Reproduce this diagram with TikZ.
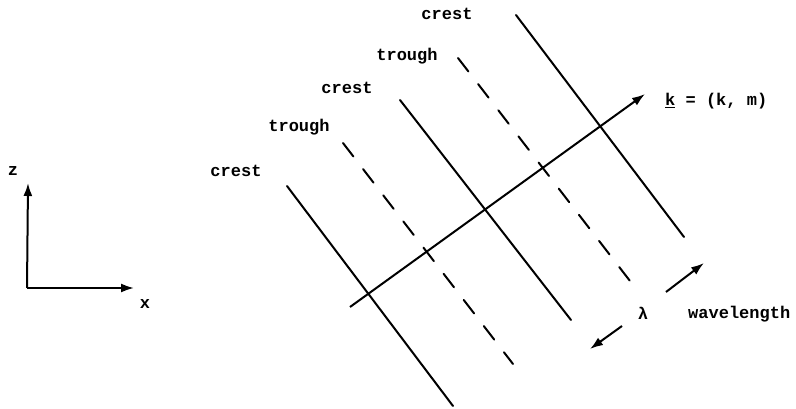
\documentclass[tikz,border=0pt]{standalone}
\usepackage{fontspec}
\setmonofont{Liberation Mono}
\usetikzlibrary{arrows.meta}
\tikzset{
  wave/.style={line width=2pt, line cap=round},
  trough line/.style={wave, dash pattern=on 17pt off 16pt},
  lbl/.style={font=\ttfamily\bfseries\fontsize{17}{20}\selectfont, inner sep=0pt},
  vec/.style={line width=2pt, -{Latex[length=13pt, width=9pt]}}
}
\begin{document}
\begin{tikzpicture}[x=1pt, y=-1pt]
        \useasboundingbox (0,0) rectangle (796,409);
        % axes
        \coordinate (o) at (27,288);
        \coordinate (zt) at (28,183);
        \coordinate (xt) at (134,288);
        \draw[vec] (o) -- (zt);
        \draw[vec] (o) -- (xt);
        \node[lbl] (zl) at (13,171) {z};
        \node[lbl] (xl) at (145,304) {x};

        % crests and troughs
        \coordinate (c1a) at (287,186); \coordinate (c1b) at (453,406);
        \coordinate (t2a) at (343,143); \coordinate (t2b) at (513,364);
        \coordinate (c3a) at (400,100); \coordinate (c3b) at (571,320);
        \coordinate (t4a) at (458,58);  \coordinate (t4b) at (630,281);
        \coordinate (c5a) at (516,15);  \coordinate (c5b) at (684,237);
        \draw[wave] (c1a) -- (c1b);
        \draw[trough line] (t2a) -- (t2b);
        \draw[wave] (c3a) -- (c3b);
        \draw[trough line] (t4a) -- (t4b);
        \draw[wave] (c5a) -- (c5b);

        \node[lbl] (c1l) at (236,171) {crest};
        \node[lbl] (t2l) at (299,127) {trough};
        \node[lbl] (c3l) at (347,88) {crest};
        \node[lbl] (t4l) at (407,56) {trough};
        \node[lbl] (c5l) at (447,14) {crest};

        % wave vector
        \coordinate (k0) at (350,307);
        \coordinate (k1) at (645,94);
        \draw[vec] (k0) -- (k1);
        \node[lbl, anchor=west] (kl) at (665,101) {\underline{k} = (k, m)};

        % wavelength
        \node[lbl] (lam) at (643,313) {λ};
        \coordinate (la) at (666,292); \coordinate (lb) at (704,263);
        \coordinate (lc) at (622,326); \coordinate (ld) at (590,349);
        \draw[vec] (la) -- (lb);
        \draw[vec] (lc) -- (ld);
        \node[lbl, anchor=west] (wl) at (688,314) {wavelength};
    \end{tikzpicture}
\end{document}
